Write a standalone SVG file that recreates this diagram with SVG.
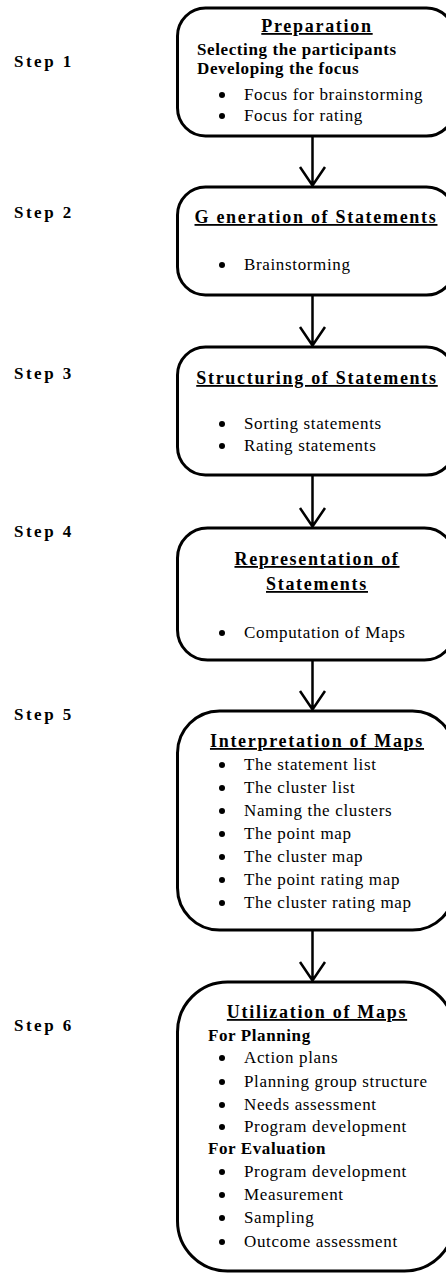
<svg xmlns="http://www.w3.org/2000/svg" width="446" height="1274" viewBox="0 0 446 1274">
<style>
.box{fill:#fff;stroke:#000;stroke-width:3}
.t{font-family:"Liberation Serif",serif;font-size:18px;font-weight:bold;letter-spacing:1.7px;text-anchor:middle;text-decoration:underline;fill:#000}
.b{font-family:"Liberation Serif",serif;font-size:17px;letter-spacing:0.65px;fill:#000}
.h{font-family:"Liberation Serif",serif;font-size:17px;font-weight:bold;letter-spacing:0.6px;fill:#000}
.s{font-family:"Liberation Serif",serif;font-size:17px;font-weight:bold;letter-spacing:2.5px;fill:#000}
.c{stroke:#000;stroke-width:2.5;fill:none}
.d{fill:#000}
</style>
<g id="steps">
<text class="s" x="14" y="67">Step 1</text>
<text class="s" x="14" y="218">Step 2</text>
<text class="s" x="14" y="379">Step 3</text>
<text class="s" x="14" y="537">Step 4</text>
<text class="s" x="14" y="720">Step 5</text>
<text class="s" x="14" y="1031">Step 6</text>
</g>
<g id="connectors">
<path class="c" d="M312.5 136V186M300 167L312.5 185.5L325 167"/>
<path class="c" d="M312.5 295V346M300 327L312.5 345.5L325 327"/>
<path class="c" d="M312.5 475V527M300 508L312.5 526.5L325 508"/>
<path class="c" d="M312.5 660V710M300 691L312.5 709.5L325 691"/>
<path class="c" d="M312.5 930V981M300 962L312.5 980.5L325 962"/>
</g>
<g id="n1">
<rect class="box" x="177.5" y="8" width="277" height="128" rx="28"/>
<text class="t" x="317" y="32">Preparation</text>
<text class="h" x="197" y="55">Selecting the participants</text>
<text class="h" x="197" y="74">Developing the focus</text>
<circle class="d" cx="222" cy="95" r="3"/><text class="b" x="244" y="100">Focus for brainstorming</text>
<circle class="d" cx="222" cy="116" r="3"/><text class="b" x="244" y="121">Focus for rating</text>
</g>
<g id="n2">
<rect class="box" x="177.5" y="187" width="277" height="108" rx="28"/>
<text class="t" x="316" y="223">G eneration of Statements</text>
<circle class="d" cx="222" cy="265" r="3"/><text class="b" x="244" y="270">Brainstorming</text>
</g>
<g id="n3">
<rect class="box" x="177.5" y="347" width="277" height="128" rx="28"/>
<text class="t" x="317" y="384">Structuring of Statements</text>
<circle class="d" cx="222" cy="424" r="3"/><text class="b" x="244" y="429">Sorting statements</text>
<circle class="d" cx="222" cy="446" r="3"/><text class="b" x="244" y="451">Rating statements</text>
</g>
<g id="n4">
<rect class="box" x="177.5" y="528" width="277" height="132" rx="30"/>
<text class="t" x="317" y="565">Representation of</text>
<text class="t" x="317" y="590">Statements</text>
<circle class="d" cx="222" cy="633" r="3"/><text class="b" x="244" y="638">Computation of Maps</text>
</g>
<g id="n5">
<rect class="box" x="177.5" y="711" width="277" height="219" rx="42"/>
<text class="t" x="317" y="747">Interpretation of Maps</text>
<circle class="d" cx="222" cy="765" r="3"/><text class="b" x="244" y="770">The statement list</text>
<circle class="d" cx="222" cy="788" r="3"/><text class="b" x="244" y="793">The cluster list</text>
<circle class="d" cx="222" cy="811" r="3"/><text class="b" x="244" y="816">Naming the clusters</text>
<circle class="d" cx="222" cy="834" r="3"/><text class="b" x="244" y="839">The point map</text>
<circle class="d" cx="222" cy="857" r="3"/><text class="b" x="244" y="862">The cluster map</text>
<circle class="d" cx="222" cy="880" r="3"/><text class="b" x="244" y="885">The point rating map</text>
<circle class="d" cx="222" cy="903" r="3"/><text class="b" x="244" y="908">The cluster rating map</text>
</g>
<g id="n6">
<rect class="box" x="177.5" y="982" width="277" height="289" rx="50"/>
<text class="t" x="317" y="1018">Utilization of Maps</text>
<text class="h" x="208" y="1041">For Planning</text>
<circle class="d" cx="222" cy="1058" r="3"/><text class="b" x="244" y="1063">Action plans</text>
<circle class="d" cx="222" cy="1082" r="3"/><text class="b" x="244" y="1087">Planning group structure</text>
<circle class="d" cx="222" cy="1105" r="3"/><text class="b" x="244" y="1110">Needs assessment</text>
<circle class="d" cx="222" cy="1127" r="3"/><text class="b" x="244" y="1132">Program development</text>
<text class="h" x="208" y="1154">For Evaluation</text>
<circle class="d" cx="222" cy="1172" r="3"/><text class="b" x="244" y="1177">Program development</text>
<circle class="d" cx="222" cy="1195" r="3"/><text class="b" x="244" y="1200">Measurement</text>
<circle class="d" cx="222" cy="1218" r="3"/><text class="b" x="244" y="1223">Sampling</text>
<circle class="d" cx="222" cy="1242" r="3"/><text class="b" x="244" y="1247">Outcome assessment</text>
</g>
</svg>
